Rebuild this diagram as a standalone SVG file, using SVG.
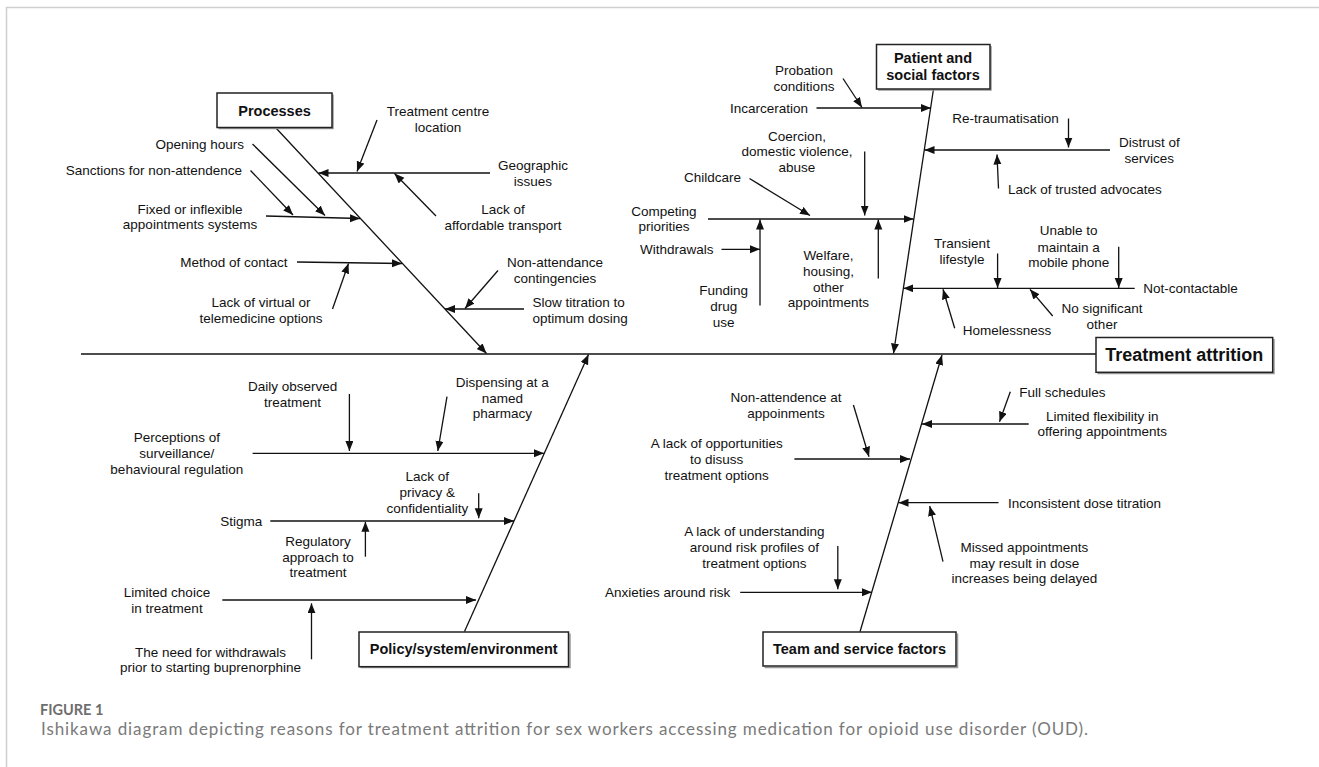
<svg xmlns="http://www.w3.org/2000/svg" width="1319" height="767" viewBox="0 0 1319 767">
<defs>
<marker id="ah" markerUnits="userSpaceOnUse" markerWidth="11" markerHeight="9" refX="10" refY="4" orient="auto">
<path d="M0,0 L10,4 L0,8 z" fill="#111"/>
</marker>
<style>
.t{font-family:"Liberation Sans",Arial,sans-serif;font-size:13.5px;fill:#111}
.m{text-anchor:middle}
.e{text-anchor:end}
.b{font-family:"Liberation Sans",Arial,sans-serif;font-size:14.5px;font-weight:bold;fill:#111;text-anchor:middle}
.box{fill:#fff;stroke:#222;stroke-width:1.5}
.sh{fill:none;stroke:#999;stroke-width:1.5}
.ln{stroke:#111;stroke-width:1.3;fill:none}
.ar{stroke:#111;stroke-width:1.3;fill:none;marker-end:url(#ah)}
.cap{font-family:Lato,"Open Sans",sans-serif;fill:#7a7a7a}
</style>
</defs>
<rect width="1319" height="767" fill="#fff"/>
<rect x="6.5" y="7.5" width="1340" height="790" fill="none" stroke="#cfcfcf" stroke-width="1.5"/>

<g id="connectors">
<line class="ln" x1="81" y1="354" x2="1096" y2="354"/>
<!-- Processes -->
<line class="ar" x1="275.5" y1="127.5" x2="486.5" y2="353.5"/>
<line class="ar" x1="490" y1="173" x2="318.5" y2="173"/>
<line class="ar" x1="377" y1="120" x2="357" y2="171.5"/>
<line class="ar" x1="436" y1="216" x2="394.5" y2="173.5"/>
<line class="ar" x1="252.5" y1="144" x2="325" y2="215.5"/>
<line class="ar" x1="250.5" y1="170.5" x2="293" y2="215"/>
<line class="ar" x1="266" y1="216" x2="360" y2="218.5"/>
<line class="ar" x1="297" y1="262" x2="402" y2="263.5"/>
<line class="ar" x1="332.5" y1="309" x2="348.5" y2="263.5"/>
<line class="ar" x1="498" y1="270.5" x2="465" y2="308.5"/>
<line class="ar" x1="524" y1="309" x2="445" y2="309"/>
<!-- Patient -->
<line class="ar" x1="933.5" y1="89" x2="893.5" y2="353.5"/>
<line class="ar" x1="843" y1="78.5" x2="862" y2="107.5"/>
<line class="ar" x1="816.5" y1="108" x2="931" y2="108"/>
<line class="ar" x1="1068.5" y1="118.5" x2="1068.5" y2="147.5"/>
<line class="ar" x1="1110" y1="150" x2="924.5" y2="150"/>
<line class="ar" x1="998.5" y1="188.5" x2="997" y2="154.5"/>
<line class="ar" x1="864.7" y1="151.5" x2="864.7" y2="215.5"/>
<line class="ar" x1="749.5" y1="178.5" x2="810" y2="215.5"/>
<line class="ar" x1="708" y1="219" x2="913.5" y2="219"/>
<line class="ar" x1="721.5" y1="249.3" x2="760" y2="249.3"/>
<line class="ar" x1="760" y1="305.5" x2="760" y2="219.5"/>
<line class="ar" x1="878.3" y1="278.5" x2="878.3" y2="219.5"/>
<line class="ar" x1="997.6" y1="253.5" x2="997.6" y2="288"/>
<line class="ar" x1="1118.7" y1="246.7" x2="1118.7" y2="288"/>
<line class="ar" x1="1134.7" y1="288.3" x2="903.3" y2="288.3"/>
<line class="ar" x1="954.7" y1="328.3" x2="943" y2="289.3"/>
<line class="ar" x1="1052.7" y1="316" x2="1030" y2="289.3"/>
<!-- Policy -->
<line class="ar" x1="464.5" y1="631.5" x2="588.5" y2="354.5"/>
<line class="ar" x1="349.4" y1="394" x2="349.4" y2="451"/>
<line class="ar" x1="447" y1="396.7" x2="437.8" y2="451"/>
<line class="ar" x1="252.6" y1="453.3" x2="544" y2="453.3"/>
<line class="ar" x1="478.7" y1="493.3" x2="478.7" y2="518.3"/>
<line class="ar" x1="270.3" y1="521" x2="514" y2="521"/>
<line class="ar" x1="365.4" y1="556.7" x2="365.4" y2="521.7"/>
<line class="ar" x1="222.3" y1="600" x2="476" y2="600"/>
<line class="ar" x1="311.5" y1="659.3" x2="311.5" y2="603.3"/>
<!-- Team -->
<line class="ar" x1="860" y1="631.7" x2="942" y2="355"/>
<line class="ar" x1="1010.3" y1="391.7" x2="999.5" y2="421.7"/>
<line class="ar" x1="1028.7" y1="424" x2="922" y2="424"/>
<line class="ar" x1="853.4" y1="405" x2="869" y2="456.7"/>
<line class="ar" x1="794.4" y1="459" x2="910" y2="459"/>
<line class="ar" x1="998.5" y1="502.7" x2="898.5" y2="502.7"/>
<line class="ar" x1="943" y1="561.7" x2="929.7" y2="506"/>
<line class="ar" x1="837.8" y1="546" x2="837.8" y2="589.3"/>
<line class="ar" x1="740.2" y1="592.3" x2="872" y2="592.3"/>
</g>

<g id="processes">
<polyline class="sh" points="218.5,128.5 333,128.5 333,94.5"/>
<rect class="box" x="217" y="93" width="115" height="34.5"/>
<text class="b" x="274.5" y="115.5">Processes</text>
<text class="t m" x="533" y="170">Geographic</text>
<text class="t m" x="533" y="186">issues</text>
<text class="t m" x="438" y="116">Treatment centre</text>
<text class="t m" x="438" y="132">location</text>
<text class="t m" x="503" y="214">Lack of</text>
<text class="t m" x="503" y="229.5">affordable transport</text>
<text class="t e" x="244" y="148.5">Opening hours</text>
<text class="t e" x="242" y="175">Sanctions for non-attendence</text>
<text class="t m" x="190" y="213.5">Fixed or inflexible</text>
<text class="t m" x="190" y="228.5">appointments systems</text>
<text class="t e" x="287.5" y="267">Method of contact</text>
<text class="t m" x="261" y="307">Lack of virtual or</text>
<text class="t m" x="261" y="323">telemedicine options</text>
<text class="t m" x="555" y="267">Non-attendance</text>
<text class="t m" x="555" y="283">contingencies</text>
<text class="t" x="532.5" y="307">Slow titration to</text>
<text class="t" x="532.5" y="322.5">optimum dosing</text>
</g>

<g id="patient">
<polyline class="sh" points="878,90 991,90 991,46"/>
<rect class="box" x="876.5" y="44.5" width="113.5" height="44.5"/>
<text class="b" x="933" y="62.5">Patient and</text>
<text class="b" x="933" y="79.5">social factors</text>
<text class="t m" x="804" y="75">Probation</text>
<text class="t m" x="804" y="91">conditions</text>
<text class="t" x="730" y="112.5">Incarceration</text>
<text class="t" x="952.3" y="122.5">Re-traumatisation</text>
<text class="t m" x="1149.3" y="146.5">Distrust of</text>
<text class="t m" x="1149.3" y="163">services</text>
<text class="t" x="1008" y="194">Lack of trusted advocates</text>
<text class="t m" x="797" y="140.5">Coercion,</text>
<text class="t m" x="797" y="156">domestic violence,</text>
<text class="t m" x="797" y="172">abuse</text>
<text class="t e" x="741" y="182">Childcare</text>
<text class="t m" x="664" y="215.5">Competing</text>
<text class="t m" x="664" y="231">priorities</text>
<text class="t e" x="713.5" y="253.5">Withdrawals</text>
<text class="t m" x="723.7" y="294.5">Funding</text>
<text class="t m" x="723.7" y="310.5">drug</text>
<text class="t m" x="723.7" y="326.5">use</text>
<text class="t m" x="828.4" y="260">Welfare,</text>
<text class="t m" x="828.4" y="275.5">housing,</text>
<text class="t m" x="828.4" y="291.5">other</text>
<text class="t m" x="828.4" y="307">appointments</text>
<text class="t m" x="962" y="247.5">Transient</text>
<text class="t m" x="962" y="263.5">lifestyle</text>
<text class="t m" x="1068.7" y="235">Unable to</text>
<text class="t m" x="1068.7" y="251.5">maintain a</text>
<text class="t m" x="1068.7" y="267">mobile phone</text>
<text class="t" x="1143.2" y="293">Not-contactable</text>
<text class="t" x="962.7" y="335">Homelessness</text>
<text class="t m" x="1102" y="313">No significant</text>
<text class="t m" x="1102" y="329">other</text>
</g>

<g id="treatment-attrition">
<polyline class="sh" points="1097.5,373.5 1274,373.5 1274,339"/>
<rect class="box" x="1096" y="337.5" width="176.7" height="34.8"/>
<text class="b" x="1184.3" y="361" style="font-size:18px">Treatment attrition</text>
</g>

<g id="policy">
<polyline class="sh" points="360.5,667.5 570,667.5 570,633.5"/>
<rect class="box" x="359" y="632" width="209.5" height="34.7"/>
<text class="b" x="463.7" y="654">Policy/system/environment</text>
<text class="t m" x="292.6" y="390.5">Daily observed</text>
<text class="t m" x="292.6" y="406.5">treatment</text>
<text class="t m" x="502.3" y="386.5">Dispensing at a</text>
<text class="t m" x="502.3" y="402.5">named</text>
<text class="t m" x="502.3" y="418">pharmacy</text>
<text class="t m" x="176.8" y="442">Perceptions of</text>
<text class="t m" x="176.8" y="458">surveillance/</text>
<text class="t m" x="176.8" y="474">behavioural regulation</text>
<text class="t m" x="427.3" y="481">Lack of</text>
<text class="t m" x="427.3" y="497">privacy &amp;</text>
<text class="t m" x="427.3" y="513">confidentiality</text>
<text class="t e" x="262.3" y="525.5">Stigma</text>
<text class="t m" x="318" y="545.5">Regulatory</text>
<text class="t m" x="318" y="561.5">approach to</text>
<text class="t m" x="318" y="577">treatment</text>
<text class="t m" x="167" y="596.5">Limited choice</text>
<text class="t m" x="167" y="612.5">in treatment</text>
<text class="t m" x="210.5" y="656.5">The need for withdrawals</text>
<text class="t m" x="210.5" y="671.5">prior to starting buprenorphine</text>
</g>

<g id="team">
<polyline class="sh" points="764.5,667.5 957.5,667.5 957.5,633.5"/>
<rect class="box" x="763" y="632" width="193" height="34"/>
<text class="b" x="859.5" y="654">Team and service factors</text>
<text class="t" x="1019.3" y="396.5">Full schedules</text>
<text class="t m" x="1102.2" y="421">Limited flexibility in</text>
<text class="t m" x="1102.2" y="436">offering appointments</text>
<text class="t m" x="786" y="402">Non-attendence at</text>
<text class="t m" x="786" y="418">appoinments</text>
<text class="t m" x="716.7" y="448">A lack of opportunities</text>
<text class="t m" x="716.7" y="464">to disuss</text>
<text class="t m" x="716.7" y="480">treatment options</text>
<text class="t" x="1008" y="507.5">Inconsistent dose titration</text>
<text class="t m" x="1024.4" y="551.5">Missed appointments</text>
<text class="t m" x="1024.4" y="567.5">may result in dose</text>
<text class="t m" x="1024.4" y="583">increases being delayed</text>
<text class="t m" x="754.4" y="535.5">A lack of understanding</text>
<text class="t m" x="754.4" y="551.5">around risk profiles of</text>
<text class="t m" x="754.4" y="567.5">treatment options</text>
<text class="t" x="605" y="596.5">Anxieties around risk</text>
</g>

<g id="caption">
<text class="cap" x="40" y="715" style="font-size:14.5px;font-weight:bold;fill:#6e6e6e">FIGURE 1</text>
<text class="cap" x="41" y="735" style="font-size:17px" textLength="1047" lengthAdjust="spacing">Ishikawa diagram depicting reasons for treatment attrition for sex workers accessing medication for opioid use disorder (OUD).</text>
</g>
</svg>
